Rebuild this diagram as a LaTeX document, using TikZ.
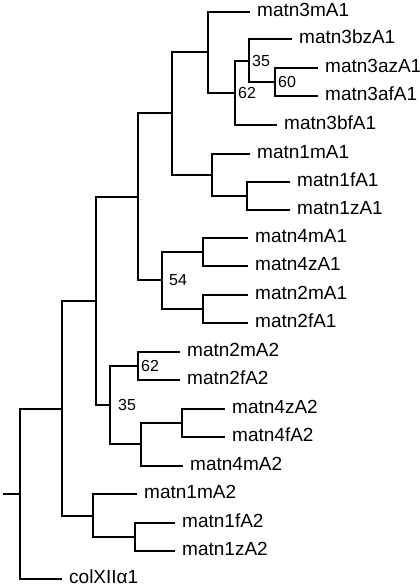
\documentclass[tikz,border=0pt]{standalone}
\usepackage{fontspec}
\setmainfont{Liberation Sans}
\begin{document}
\begin{tikzpicture}[x=1pt, y=-1pt, line width=2.4pt,
        leaf/.style={anchor=west, inner xsep=6pt, inner ysep=0pt, text depth=4pt, font=\fontsize{19}{22}\selectfont},
        boot/.style={anchor=west, inner sep=2pt, font=\fontsize{16}{18}\selectfont}]
        \useasboundingbox (0,0) rectangle (420,587);

        % leaves
        \node[leaf] (t1) at (250, 12) {matn3mA1};
        \node[leaf] (t2) at (292, 39) {matn3bzA1};
        \node[leaf] (t3) at (318, 68) {matn3azA1};
        \node[leaf] (t4) at (318, 96) {matn3afA1};
        \node[leaf] (t5) at (277, 125) {matn3bfA1};
        \node[leaf] (t6) at (250, 154) {matn1mA1};
        \node[leaf] (t7) at (290, 182) {matn1fA1};
        \node[leaf] (t8) at (290, 210) {matn1zA1};
        \node[leaf] (t9) at (248, 238) {matn4mA1};
        \node[leaf] (t10) at (248, 266) {matn4zA1};
        \node[leaf] (t11) at (248, 295) {matn2mA1};
        \node[leaf] (t12) at (248, 323) {matn2fA1};
        \node[leaf] (t13) at (180, 352) {matn2mA2};
        \node[leaf] (t14) at (180, 380) {matn2fA2};
        \node[leaf] (t15) at (225, 409) {matn4zA2};
        \node[leaf] (t16) at (225, 437) {matn4fA2};
        \node[leaf] (t17) at (183, 466) {matn4mA2};
        \node[leaf] (t18) at (137, 494) {matn1mA2};
        \node[leaf] (t19) at (175, 523) {matn1fA2};
        \node[leaf] (t20) at (175, 551) {matn1zA2};
        \node[leaf] (t21) at (62, 579) {colXIIα1};

        % inner nodes
        \coordinate (n1) at (275, 82);
        \coordinate (n2) at (249, 61);
        \coordinate (n3) at (235, 93);
        \coordinate (n4) at (208, 52);
        \coordinate (n5) at (247, 196);
        \coordinate (n6) at (212, 175);
        \coordinate (n7) at (172, 113);
        \coordinate (n8) at (203, 252);
        \coordinate (n9) at (203, 309);
        \coordinate (n10) at (162, 280);
        \coordinate (n11) at (138, 197);
        \coordinate (n12) at (138, 366);
        \coordinate (n13) at (182, 423);
        \coordinate (n14) at (141, 444);
        \coordinate (n15) at (110, 405);
        \coordinate (n16) at (96, 301);
        \coordinate (n17) at (135, 537);
        \coordinate (n18) at (93, 516);
        \coordinate (n19) at (62, 409);
        \coordinate (n20) at (20, 494);
        \coordinate (r) at (3, 494);

        \draw (n1) |- (t3.west);
        \draw (n1) |- (t4.west);
        \draw (n2) |- (t2.west);
        \draw (n2) |- (n1);
        \draw (n3) |- (n2);
        \draw (n3) |- (t5.west);
        \draw (n4) |- (t1.west);
        \draw (n4) |- (n3);
        \draw (n5) |- (t7.west);
        \draw (n5) |- (t8.west);
        \draw (n6) |- (t6.west);
        \draw (n6) |- (n5);
        \draw (n7) |- (n4);
        \draw (n7) |- (n6);
        \draw (n8) |- (t9.west);
        \draw (n8) |- (t10.west);
        \draw (n9) |- (t11.west);
        \draw (n9) |- (t12.west);
        \draw (n10) |- (n8);
        \draw (n10) |- (n9);
        \draw (n11) |- (n7);
        \draw (n11) |- (n10);
        \draw (n12) |- (t13.west);
        \draw (n12) |- (t14.west);
        \draw (n13) |- (t15.west);
        \draw (n13) |- (t16.west);
        \draw (n14) |- (n13);
        \draw (n14) |- (t17.west);
        \draw (n15) |- (n12);
        \draw (n15) |- (n14);
        \draw (n16) |- (n11);
        \draw (n16) |- (n15);
        \draw (n17) |- (t19.west);
        \draw (n17) |- (t20.west);
        \draw (n18) |- (t18.west);
        \draw (n18) |- (n17);
        \draw (n19) |- (n16);
        \draw (n19) |- (n18);
        \draw (n20) |- (n19);
        \draw (n20) |- (t21.west);
        \draw (r) -- (n20);

        % bootstrap values
        \node[boot] (b1) at (n1) {60};
        \node[boot] (b2) at (n2) {35};
        \node[boot] (b3) at (n3) {62};
        \node[boot, xshift=4pt] (b4) at (n10) {54};
        \node[boot] (b5) at (n12) {62};
        \node[boot, xshift=5pt] (b6) at (n15) {35};
\end{tikzpicture}
\end{document}
